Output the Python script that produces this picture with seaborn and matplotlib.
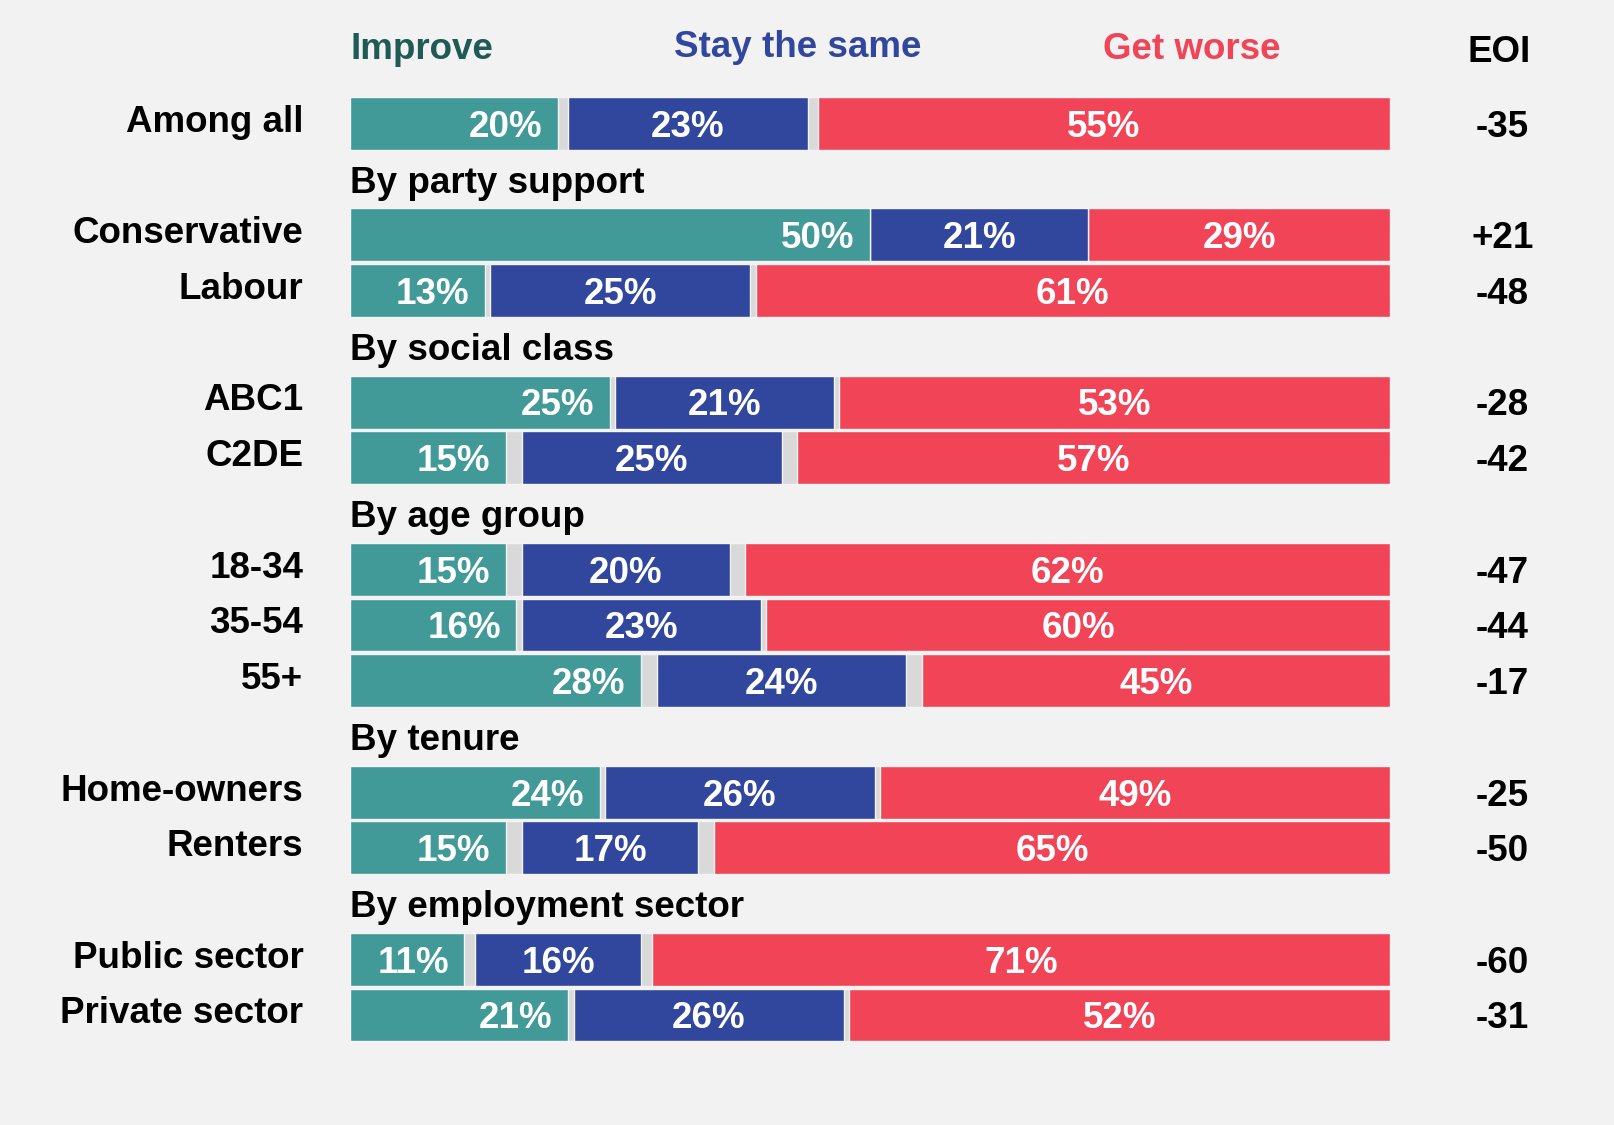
import pandas as pd
import numpy as np
import matplotlib.pyplot as plt
import seaborn as sns

# Survey results (percent), one entry per group
rows = ['Among all', 'Conservative', 'Labour', 'ABC1', 'C2DE', '18-34', '35-54', '55+',
        'Home-owners', 'Renters', 'Public sector', 'Private sector']
improve = [20, 50, 13, 25, 15, 15, 16, 28, 24, 15, 11, 21]
same = [23, 21, 25, 21, 25, 20, 23, 24, 26, 17, 16, 26]
worse = [55, 29, 61, 53, 57, 62, 60, 45, 49, 65, 71, 52]
eoi = ['-35', '+21', '-48', '-28', '-42', '-47', '-44', '-17', '-25', '-50', '-60', '-31']

# Section headers and the rows that follow each one
sections = [
    (None, ['Among all']),
    ('By party support', ['Conservative', 'Labour']),
    ('By social class', ['ABC1', 'C2DE']),
    ('By age group', ['18-34', '35-54', '55+']),
    ('By tenure', ['Home-owners', 'Renters']),
    ('By employment sector', ['Public sector', 'Private sector']),
]

TEAL = '#429a98'
BLUE = '#31479e'
RED = '#f24457'
GREY = '#d9d9d9'
BG = '#f2f2f2'

df = pd.DataFrame({'row': rows, 'improve': improve, 'same': same, 'worse': worse, 'eoi': eoi})
# remaining "don't know" share is shown as two grey gaps
df['gap'] = (100 - df['improve'] - df['same'] - df['worse']) / 2
df['c1'] = df['improve']
df['c2'] = df['c1'] + df['gap']
df['c3'] = df['c2'] + df['same']
df['c4'] = df['c3'] + df['gap']
df['c5'] = df['c4'] + df['worse']

order = []
headers = []
for title, members in sections:
    if title is not None:
        headers.append(title)
        order.append(title)
    order.extend(members)

sns.set_theme(style='white')
plt.rcParams['font.family'] = ['Liberation Sans', 'DejaVu Sans']
plt.rcParams['font.weight'] = 'bold'

fig = plt.figure(figsize=(16.14, 11.25), dpi=100, facecolor=BG)
ax = fig.add_axes([0.2169, 0.073, 0.6443, 0.842])
ax.set_facecolor(BG)

# overlay cumulative bars, longest first
for col, color in [('c5', RED), ('c4', GREY), ('c3', BLUE), ('c2', GREY), ('c1', TEAL)]:
    sns.barplot(data=df, x=col, y='row', order=order, color=color, orient='h',
                width=0.95, errorbar=None, edgecolor='#f4f4f4', linewidth=1.0,
                saturation=1, ax=ax)

ax.set_xlim(0, 100)
ax.set_ylim(len(order) - 0.5, -0.5)
ax.axis('off')

fs = 26.5
dy = 0.07  # nudge text down to optical centre
pos = {name: i for i, name in enumerate(order)}
for _, r in df.iterrows():
    y = pos[r['row']] + dy
    ax.text(r['c1'] - 1.5, y, f"{r['improve']}%", ha='right', va='center',
            color='white', fontsize=fs, fontweight='bold')
    ax.text((r['c2'] + r['c3']) / 2, y, f"{r['same']}%", ha='center', va='center',
            color='white', fontsize=fs, fontweight='bold')
    ax.text((r['c4'] + r['c5']) / 2, y, f"{r['worse']}%", ha='center', va='center',
            color='white', fontsize=fs, fontweight='bold')
    ax.text(-0.045, y - 0.09, r['row'], transform=ax.get_yaxis_transform(),
            ha='right', va='center', color='black', fontsize=fs, fontweight='bold')
    ax.text(1.108, y, r['eoi'], transform=ax.get_yaxis_transform(),
            ha='center', va='center', color='black', fontsize=fs, fontweight='bold')

for h in headers:
    ax.text(0.0, pos[h] + dy, h, transform=ax.get_yaxis_transform(),
            ha='left', va='center', color='black', fontsize=fs, fontweight='bold')

fig.text(0.2169, 0.956, 'Improve', ha='left', va='center', color='#1f5a55',
         fontsize=fs, fontweight='bold')
fig.text(0.494, 0.958, 'Stay the same', ha='center', va='center', color=BLUE,
         fontsize=fs, fontweight='bold')
fig.text(0.7385, 0.956, 'Get worse', ha='center', va='center', color=RED,
         fontsize=fs, fontweight='bold')
fig.text(0.9287, 0.953, 'EOI', ha='center', va='center', color='black',
         fontsize=fs, fontweight='bold')

fig.savefig('out.png', dpi=100, facecolor=BG)
